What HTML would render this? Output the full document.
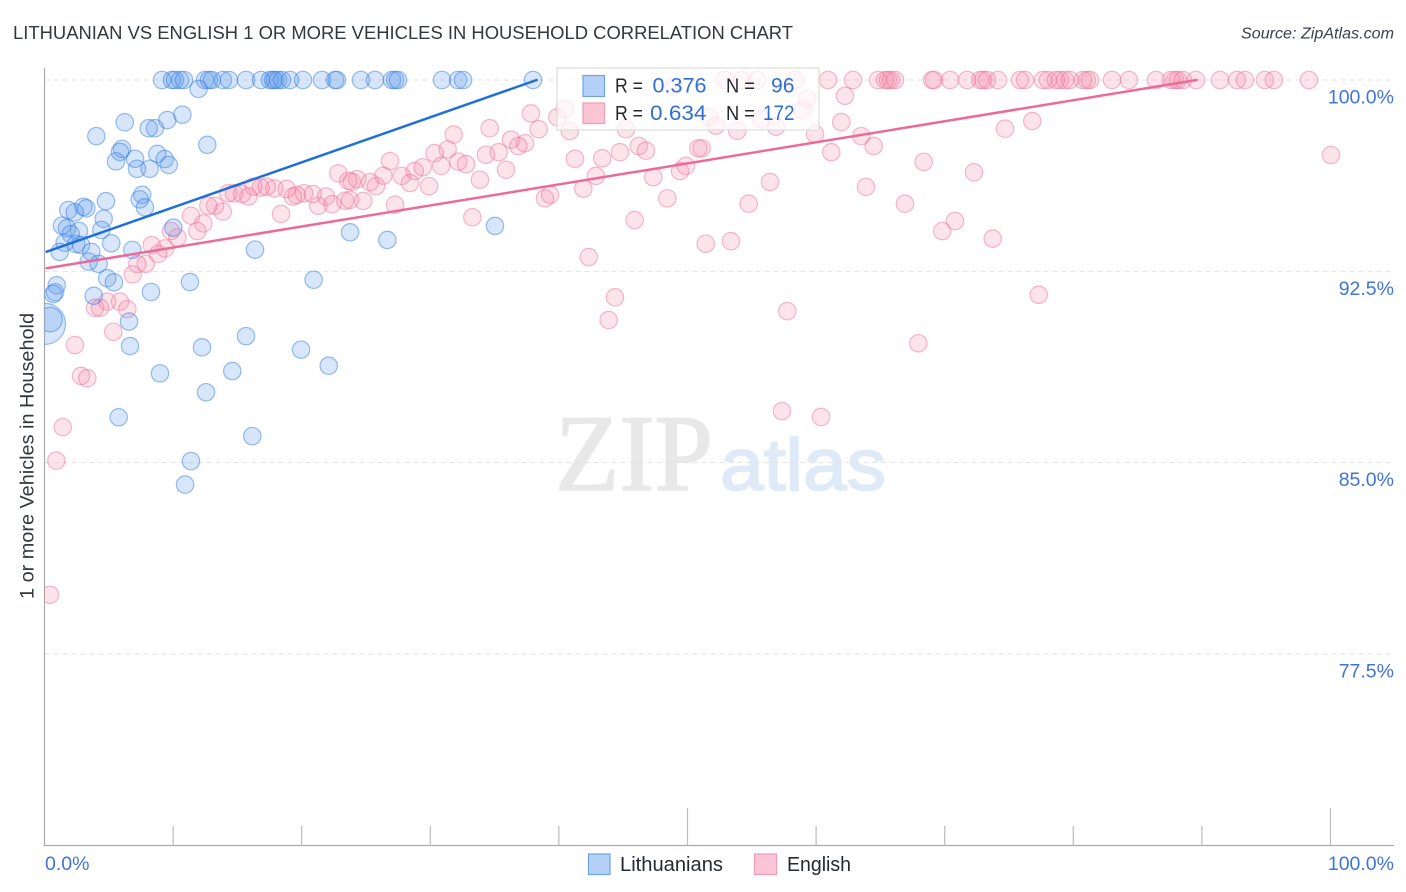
<!DOCTYPE html>
<html lang="en">
<head>
<meta charset="utf-8">
<title>Lithuanian vs English 1 or More Vehicles in Household Correlation Chart</title>
<style>
html,body{margin:0;padding:0;background:#fff;}
body{width:1406px;height:892px;overflow:hidden;}
svg{display:block;font-family:"Liberation Sans",sans-serif;}
</style>
</head>
<body>
<svg id="chart" xmlns="http://www.w3.org/2000/svg" width="1406" height="892" viewBox="0 0 1406 892">
  <defs>
    <clipPath id="plot-clip"><rect x="44.5" y="60" width="1350" height="786"></rect></clipPath>
  </defs>
  <rect x="0" y="0" width="1406" height="892" fill="#ffffff"></rect>
  <text x="13" y="39" font-size="18.5" fill="#33373e" textLength="780" lengthAdjust="spacingAndGlyphs">LITHUANIAN VS ENGLISH 1 OR MORE VEHICLES IN HOUSEHOLD CORRELATION CHART</text>
  <text x="1394" y="38.5" font-size="15.5" font-style="italic" fill="#3a414b" text-anchor="end" textLength="153" lengthAdjust="spacingAndGlyphs">Source: ZipAtlas.com</text>
  <g>
    <text x="555" y="490" font-family="'Liberation Serif',serif" font-size="109" fill="#e8e8e8" stroke="#e8e8e8" stroke-width="1.6" textLength="158" lengthAdjust="spacingAndGlyphs">ZIP</text>
    <text x="720" y="490" font-size="73" fill="#dfeaf9" stroke="#dfeaf9" stroke-width="1.8" textLength="166" lengthAdjust="spacingAndGlyphs">atlas</text>
  </g>
  <g id="grid"></g>
  <g id="axes"></g>
  <g id="points" clip-path="url(#plot-clip)"></g>
  <g id="trends"></g>
  <text transform="translate(33.5,599) rotate(-90)" x="0" y="0" font-size="19" fill="#33373e" textLength="286" lengthAdjust="spacingAndGlyphs">1 or more Vehicles in Household</text>
  <g>
    <rect x="557" y="68" width="262" height="62" fill="#ffffff" fill-opacity="0.72" stroke="#dcdcdc" stroke-width="1.2"></rect>
    <rect x="583" y="75.5" width="21.5" height="21" fill="#b5d1f7" stroke="#6ea3e6" stroke-width="1.2"></rect>
    <rect x="583" y="103" width="21.5" height="20.5" fill="#fcc5d6" stroke="#ef9db8" stroke-width="1.2"></rect>
    <text x="615" y="92.5" font-size="20" fill="#262a30" textLength="28" lengthAdjust="spacingAndGlyphs">R =</text>
    <text x="652.5" y="92.5" font-size="21" fill="#2f6fd6" textLength="54" lengthAdjust="spacingAndGlyphs">0.376</text>
    <text x="726" y="92.5" font-size="20" fill="#262a30" textLength="29" lengthAdjust="spacingAndGlyphs">N =</text>
    <text x="771" y="92.5" font-size="21" fill="#2f6fd6" textLength="23.5" lengthAdjust="spacingAndGlyphs">96</text>
    <text x="615" y="120" font-size="20" fill="#262a30" textLength="28" lengthAdjust="spacingAndGlyphs">R =</text>
    <text x="650" y="120" font-size="21" fill="#2f6fd6" textLength="56.5" lengthAdjust="spacingAndGlyphs">0.634</text>
    <text x="726" y="120" font-size="20" fill="#262a30" textLength="29" lengthAdjust="spacingAndGlyphs">N =</text>
    <text x="763" y="120" font-size="21" fill="#2f6fd6" textLength="31.5" lengthAdjust="spacingAndGlyphs">172</text>
  </g>
  <g>
    <rect x="588.5" y="854" width="21.5" height="20.5" fill="#b5d1f7" stroke="#6ea3e6" stroke-width="1.2"></rect>
    <text x="620" y="871" font-size="20" fill="#262a30" textLength="103" lengthAdjust="spacingAndGlyphs">Lithuanians</text>
    <rect x="754.5" y="854" width="22" height="20.5" fill="#fcc5d6" stroke="#ef9db8" stroke-width="1.2"></rect>
    <text x="787" y="871" font-size="20" fill="#262a30" textLength="64" lengthAdjust="spacingAndGlyphs">English</text>
  </g>
</svg>
<script>
// Axis ticks
const yTickValues = [100, 92.5, 85, 77.5];
const yTickLabels = ["100.0%", "92.5%", "85.0%", "77.5%"];
const xTickValues = [0, 10, 20, 30, 40, 50, 60, 70, 80, 90, 100];
const xMajorTicks = [0, 50, 100];
const xEdgeValues = [0, 100];
const xEdgeLabels = ["0.0%", "100.0%"];

// Lithuanians: points sitting on the 100% line (x values)
const lithuanianTopX = [9.14,9.91,10.15,10.54,10.85,12.48,12.79,13.02,13.88,14.35,15.67,16.84,17.53,17.77,17.92,18.16,18.47,19.09,20.10,21.58,22.59,22.74,24.61,25.70,27.02,27.26,27.49,30.91,32.16,32.55,37.99];
// Lithuanians: remaining points
const lithuanianX = [11.98,10.72,9.55,8.59,8.10,6.24,4.03,12.66,6.03,5.87,5.56,7.04,7.19,8.18,8.77,9.35,9.66,7.60,7.40,7.81,4.78,4.60,4.42,5.19,3.02,3.25,1.85,2.35,1.36,1.75,2.68,2.04,1.57,2.47,2.84,1.18,3.64,3.44,4.21,6.83,10.02,16.37,20.93,11.31,4.88,5.40,8.28,3.83,0.95,0.82,0.68,6.57,15.67,6.65,12.25,19.95,22.10,8.98,14.60,12.56,5.77,16.16,11.39,10.93,23.76,26.66,35.03];
const lithuanianY = [99.65,98.64,98.43,98.11,98.11,98.34,97.80,97.46,97.30,97.18,96.81,96.91,96.52,96.52,97.10,96.90,96.67,95.50,95.32,95.01,95.25,94.56,94.12,93.60,95.03,94.97,94.90,94.81,94.29,94.19,94.08,93.96,93.62,93.57,93.53,93.26,93.26,92.88,92.79,93.34,94.21,93.35,92.17,92.08,92.23,92.07,91.69,91.54,91.95,91.68,91.61,90.53,89.96,89.57,89.52,89.43,88.80,88.50,88.59,87.76,86.78,86.04,85.06,84.14,94.03,93.73,94.28];
// Lithuanians: two heavily weighted points near the left axis
const lithuanianHeavyX = [0.04, 0.43];
const lithuanianHeavyY = [90.44, 90.61];
const lithuanianHeavyWeight = [5.55, 2];

// English: points sitting on the 100% line (x values)
const englishTopX = [52.92,54.24,55.41,58.36,60.93,62.87,64.82,65.37,65.60,65.83,66.14,69.02,69.17,70.42,71.74,72.75,72.98,73.29,74.14,75.85,76.24,77.64,78.03,78.65,78.96,79.35,79.74,80.75,81.06,81.30,83.01,84.33,86.43,87.60,87.91,88.14,88.53,89.54,91.41,92.73,93.35,94.90,95.60,98.33];
// English: remaining points
const englishX = [100.04,59.32,58.96,62.25,55.74,56.88,53.87,52.22,51.70,61.96,59.92,63.51,64.48,61.18,51.10,74.69,76.81,68.37,72.28,56.42,63.88,54.76,66.91,70.80,69.81,73.73,51.42,53.38,77.31,57.76,67.95,48.90,37.83,40.47,39.88,38.43,40.84,45.22,34.62,31.82,36.28,37.36,36.84,46.21,46.77,50.84,31.35,30.34,35.32,34.33,44.75,43.37,41.25,26.87,30.85,32.18,32.78,35.89,29.41,28.79,27.78,28.42,26.35,33.86,29.90,24.32,23.89,25.31,25.78,24.79,27.26,23.76,42.88,41.90,47.34,49.42,49.88,39.31,38.92,48.43,45.89,33.27,42.32,44.36,43.87,57.35,60.38,22.85,23.62,23.37,21.89,22.38,21.29,20.86,20.18,19.61,19.32,18.83,18.39,17.87,17.28,16.81,16.24,15.85,15.36,14.74,14.29,13.86,13.26,12.74,12.35,11.39,11.88,10.33,9.84,9.37,8.34,8.83,7.87,7.22,6.86,4.88,5.87,6.44,3.93,4.32,5.35,2.37,2.84,3.33,1.42,0.92,0.43];
const englishY = [97.06,99.27,98.82,99.38,98.46,98.17,98.01,98.21,98.56,98.35,97.88,97.80,97.41,97.17,97.32,98.09,98.39,96.79,96.38,96.00,95.81,95.15,95.15,94.47,94.08,93.78,93.58,93.68,91.58,90.94,89.68,99.74,98.69,98.85,98.54,98.07,98.00,98.07,98.11,97.86,97.66,97.52,97.41,97.41,97.23,97.32,97.28,97.13,97.17,97.07,97.17,96.93,96.91,96.82,96.63,96.80,96.70,96.48,96.58,96.43,96.24,95.96,96.25,96.09,95.84,96.11,96.01,96.00,95.84,95.26,95.11,95.30,96.24,95.74,96.19,96.43,96.63,95.50,95.36,95.36,94.51,94.62,93.06,91.48,90.59,87.02,86.79,96.34,96.05,95.27,95.43,95.13,95.07,95.53,95.56,95.49,95.43,95.73,94.75,95.75,95.82,95.78,95.82,95.43,95.53,95.56,95.56,94.84,95.07,95.07,94.38,94.68,94.08,93.83,94.08,93.40,93.53,93.18,92.79,92.78,92.38,91.31,91.31,91.02,91.07,91.07,90.13,89.61,88.40,88.31,86.39,85.08,79.82];

// Trend lines (start/end in data units)
const lithuanianTrendX = [0.17, 38.27];
const lithuanianTrendY = [93.27, 100];
const englishTrendX = [0.17, 89.6];
const englishTrendY = [92.62, 100];

const topLineValue = 100;

// Axis functions
function xScale(v) { return 44.5 + v * 12.86; }
function yScale(v) { return 80 + (100 - v) * 25.51; }

const NS = "http://www.w3.org/2000/svg";
function make(tag, attrs, parent) {
  const el = document.createElementNS(NS, tag);
  for (const k in attrs) el.setAttribute(k, attrs[k]);
  parent.appendChild(el);
  return el;
}

const grid = document.getElementById("grid");
const axes = document.getElementById("axes");
const points = document.getElementById("points");
const trends = document.getElementById("trends");

yTickValues.forEach(function (v, i) {
  const line = make("line", {x1: 44.5, x2: 1394, y1: yScale(v), y2: yScale(v), stroke: "#e2e2e2", "stroke-width": 1, "stroke-dasharray": "5 4"}, grid);
  
  
  const label = make("text", {x: 1394, y: yScale(v) + 23.5, "font-size": 19.5, fill: "#3f74d8", "text-anchor": "end"}, axes);
  
  
  label.textContent = yTickLabels[i];
});

const yAxis = make("line", {x1: 44.5, x2: 44.5, y1: 68, y2: 846, stroke: "#aaaaaa", "stroke-width": 1.2}, axes);


const xAxis = make("line", {x1: 44, x2: 1394, y1: 845.5, y2: 845.5, stroke: "#aaaaaa", "stroke-width": 1.2}, axes);



xTickValues.forEach(function (v) {
  const top = xMajorTicks.indexOf(v) >= 0 ? 808 : 826;
  if (v === 0) return;
  const tick = make("line", {x1: xScale(v), x2: xScale(v), y1: top, y2: 845.5, stroke: "#bbbbbb", "stroke-width": 1.2}, axes);
  
  
});

xEdgeValues.forEach(function (v, i) {
  const attrs = {y: 870, "font-size": 19.5, fill: "#3f74d8"};
  if (i === 0) { attrs.x = xScale(v) + 0.5; } else { attrs.x = 1394; attrs["text-anchor"] = "end"; }
  const label = make("text", attrs, axes);
  
  
  label.textContent = xEdgeLabels[i];
});

const BASE_RADIUS = 8.7;
const blueStyle = {fill: "rgba(88,150,235,0.24)", stroke: "rgba(55,125,225,0.5)", "stroke-width": 1.2};
const pinkStyle = {fill: "rgba(245,130,165,0.22)", stroke: "rgba(235,110,150,0.48)", "stroke-width": 1.2};

function drawPoint(xv, yv, weight, style, name) {
  const c = make("circle", {cx: xScale(xv), cy: yScale(yv), r: BASE_RADIUS * Math.sqrt(weight)}, points);
  for (const k in style) c.setAttribute(k, style[k]);
  
  
}

englishTopX.forEach(function (x) { drawPoint(x, topLineValue, 1, pinkStyle, 'english-point'); });
englishX.forEach(function (x, i) { drawPoint(x, englishY[i], 1, pinkStyle, 'english-point'); });
lithuanianTopX.forEach(function (x) { drawPoint(x, topLineValue, 1, blueStyle, 'lithuanian-point'); });
lithuanianX.forEach(function (x, i) { drawPoint(x, lithuanianY[i], 1, blueStyle, 'lithuanian-point'); });
lithuanianHeavyX.forEach(function (x, i) { drawPoint(x, lithuanianHeavyY[i], lithuanianHeavyWeight[i], blueStyle, 'lithuanian-point'); });

const blueTrend = make("line", {x1: xScale(lithuanianTrendX[0]), y1: yScale(lithuanianTrendY[0]), x2: xScale(lithuanianTrendX[1]), y2: yScale(lithuanianTrendY[1]), stroke: "#1f6fd8", "stroke-width": 2.5, "stroke-linecap": "round"}, trends);


const pinkTrend = make("line", {x1: xScale(englishTrendX[0]), y1: yScale(englishTrendY[0]), x2: xScale(englishTrendX[1]), y2: yScale(englishTrendY[1]), stroke: "#ec6a98", "stroke-width": 2.5, "stroke-linecap": "round"}, trends);


</script>
</body>
</html>
